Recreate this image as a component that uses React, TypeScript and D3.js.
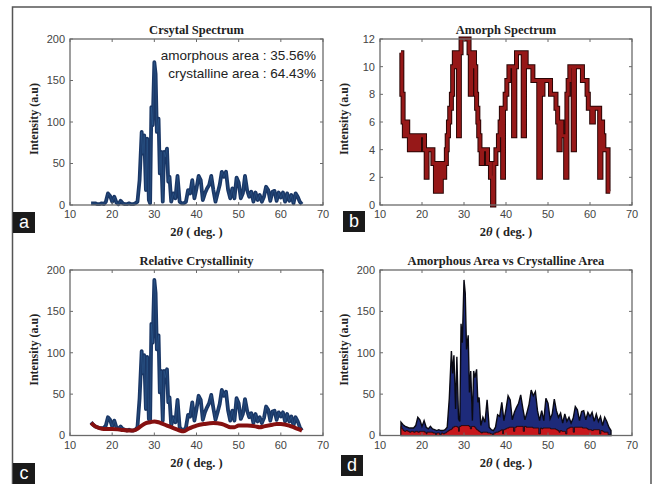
import * as d3 from "d3";

// 2θ positions shared by the crystalline / total spectra
const angles = [
  15, 15.5, 16, 16.5, 17, 17.5, 18, 18.5, 19, 19.5, 20, 20.5, 21, 21.5, 22, 22.5, 23, 23.5, 24, 24.5,
  25, 25.5, 26, 26.5, 27, 27.3, 27.6, 28, 28.3, 28.7, 29, 29.3, 29.6, 30, 30.3, 30.6, 31, 31.3, 31.6,
  32, 32.3, 32.6, 33, 33.3, 33.6, 34, 34.5, 35, 35.5, 36, 36.5, 37, 37.5, 38, 38.5, 39, 39.5, 40, 40.5,
  41, 41.5, 42, 42.5, 43, 43.5, 44, 44.5, 45, 45.5, 46, 46.5, 47, 47.5, 48, 48.5, 49, 49.5, 50, 50.5,
  51, 51.5, 52, 52.5, 53, 53.5, 54, 54.5, 55, 55.5, 56, 56.5, 57, 57.5, 58, 58.5, 59, 59.5, 60, 60.5,
  61, 61.5, 62, 62.5, 63, 63.5, 64, 64.5, 65,
];

// panel a: crystalline spectrum
const crystal = [
  2, 2, 2, 1, 1, 2, 1, 4, 14, 11, 4, 10, 3, 1, 5, 2, 1, 1, 2, 1,
  1, 2, 4, 30, 88, 62, 84, 18, 80, 6, 2, 118, 96, 172, 158, 88, 104, 38, 64,
  4, 64, 58, 68, 28, 34, 4, 14, 8, 35, 4, 2, 2, 4, 18, 14, 30, 8, 20, 35,
  30, 6, 14, 20, 24, 35, 18, 4, 14, 24, 40, 34, 40, 18, 8, 20, 8, 33, 27, 8,
  14, 35, 18, 10, 16, 4, 15, 6, 12, 4, 10, 22, 18, 5, 16, 17, 5, 15, 9, 15,
  4, 14, 5, 12, 2, 14, 10, 4, 1,
];

// panels c, d: measured total intensity
const total = [
  16, 13, 11, 10, 9, 9, 9, 12, 22, 19, 11, 18, 10, 8, 11, 8, 7, 6, 7, 6,
  6, 7, 10, 45, 102, 75, 97, 32, 95, 20, 17, 135, 112, 188, 172, 104, 121, 52, 78,
  18, 78, 70, 80, 40, 46, 12, 22, 16, 43, 10, 7, 6, 10, 25, 23, 40, 18, 32, 48,
  43, 19, 28, 34, 39, 49, 33, 19, 28, 38, 55, 48, 53, 30, 18, 30, 18, 45, 39, 20,
  26, 44, 30, 22, 27, 15, 26, 17, 22, 15, 21, 35, 31, 18, 29, 30, 19, 28, 23, 28,
  17, 26, 17, 23, 12, 22, 17, 10, 6,
];

// panel b: amorphous spectrum (stepped)
const amorphAngles = [
  15.0, 15.2, 15.5, 15.8, 16.2, 16.6, 17.0, 17.4, 18.0, 18.4, 19.0, 19.4, 20.6, 21.0, 21.2, 22.0,
  22.6, 23.2, 23.5, 24.2, 24.6, 25.0, 25.4, 25.8, 26.0, 26.3, 26.6, 27.0, 27.3, 27.7, 28.4, 28.7,
  28.9, 29.3, 31.2, 31.5, 31.8, 32.5, 32.8, 33.0, 33.3, 33.5, 33.8, 34.1, 34.4, 35.6, 36.3, 36.8,
  37.1, 37.6, 38.2, 38.6, 38.9, 39.2, 39.4, 39.8, 40.2, 40.7, 41.8, 42.1, 42.5, 44.1, 44.4, 44.8,
  46.4, 47.8, 48.2, 48.5, 48.8, 50.6, 51.9, 52.3, 52.6, 52.9, 53.3, 54.2, 54.5, 54.8, 55.2, 56.0,
  56.3, 58.2, 59.3, 59.6, 60.4, 60.8, 62.3, 62.6, 63.0, 63.3, 64.3, 64.8,
];
const amorph = [
  11, 8, 6, 5, 6, 5, 4, 5, 4, 5, 4, 5, 4, 2, 4, 4,
  3, 1, 3, 1, 3, 2, 3, 4, 5, 6, 7, 8, 10, 11, 10, 5,
  11, 12, 11, 8, 11, 10, 8, 7, 6, 5, 4, 3, 4, 3, 2, 0,
  3, 4, 5, 6, 7, 2, 7, 8, 9, 10, 5, 10, 11, 5, 11, 10,
  9, 2, 9, 8, 9, 8, 7, 6, 4, 6, 5, 2, 8, 9, 10, 4,
  10, 9, 8, 7, 6, 7, 2, 6, 5, 4, 1, 1,
];

// panel c: fitted amorphous background
const bgAngles = [
  15, 16, 17, 18, 20, 22, 24, 25, 26, 27, 28, 29, 30, 31, 32, 33, 34, 35, 36, 37, 38, 39, 40,
  42, 44, 46, 47, 48, 49, 50, 52, 54, 55, 56, 58, 59, 60, 62, 63, 64, 65,
];
const background = [
  15, 11, 9, 8, 8, 7, 6, 6, 8, 12, 15, 16, 17, 16, 14, 12, 10, 8, 6, 5, 8, 10, 12,
  14, 15, 14, 12, 10, 10, 12, 12, 11, 10, 11, 13, 14, 14, 12, 10, 8, 6,
];

const xTicks = [10, 20, 30, 40, 50, 60, 70];
const intensityTicks = [0, 50, 100, 150, 200];
const amorphTicks = [0, 2, 4, 6, 8, 10, 12];

type Box = { x0: number; x1: number; y0: number; y1: number };

const AXIS = "#6a6a6a";
const TICKTEXT = "#444";
const SERIF = "'Liberation Serif', 'Times New Roman', serif";
const SANS = "'Liberation Sans', Arial, sans-serif";

function Frame({
  box,
  title,
  yMax,
  yTicks,
  children,
}: {
  box: Box;
  title: string;
  yMax: number;
  yTicks: number[];
  children: (x: d3.ScaleLinear<number, number>, y: d3.ScaleLinear<number, number>) => any;
}) {
  const x = d3.scaleLinear().domain([10, 70]).range([box.x0, box.x1]);
  const y = d3.scaleLinear().domain([0, yMax]).range([box.y1, box.y0]);
  const cx = (box.x0 + box.x1) / 2;
  const cy = (box.y0 + box.y1) / 2;
  return (
    <g>
      {children(x, y)}
      <rect
        x={box.x0}
        y={box.y0}
        width={box.x1 - box.x0}
        height={box.y1 - box.y0}
        fill="none"
        stroke={AXIS}
        strokeWidth={1.3}
      />
      {xTicks.map((t) => (
        <g key={"x" + t}>
          <line x1={x(t)} x2={x(t)} y1={box.y1} y2={box.y1 - 3} stroke={AXIS} />
          <line x1={x(t)} x2={x(t)} y1={box.y0} y2={box.y0 + 3} stroke={AXIS} />
          <text
            x={x(t)}
            y={box.y1 + 13}
            textAnchor="middle"
            fontFamily={SANS}
            fontSize={11}
            fill={TICKTEXT}
          >
            {t}
          </text>
        </g>
      ))}
      {yTicks.map((t) => (
        <g key={"y" + t}>
          <line x1={box.x0} x2={box.x0 + 3} y1={y(t)} y2={y(t)} stroke={AXIS} />
          <line x1={box.x1} x2={box.x1 - 3} y1={y(t)} y2={y(t)} stroke={AXIS} />
          <text
            x={box.x0 - 5}
            y={y(t)}
            dy="0.35em"
            textAnchor="end"
            fontFamily={SANS}
            fontSize={11}
            fill={TICKTEXT}
          >
            {t}
          </text>
        </g>
      ))}
      <text
        x={cx}
        y={box.y0 - 5}
        textAnchor="middle"
        fontFamily={SERIF}
        fontWeight="bold"
        fontSize={12.5}
        fill="#222"
      >
        {title}
      </text>
      <text
        x={cx}
        y={box.y1 + 31}
        textAnchor="middle"
        fontFamily={SERIF}
        fontWeight="bold"
        fontSize={12.5}
        fill="#222"
      >
        2<tspan fontStyle="italic">θ</tspan> ( deg. )
      </text>
      <text
        transform={`translate(${box.x0 - 32},${cy - 3}) rotate(-90)`}
        textAnchor="middle"
        fontFamily={SERIF}
        fontWeight="bold"
        fontSize={12}
        fill="#222"
      >
        Intensity (a.u)
      </text>
    </g>
  );
}

function Tag({ x, y, label }: { x: number; y: number; label: string }) {
  return (
    <g>
      <rect x={x} y={y} width={22} height={21} fill="#1a1a1a" />
      <text
        x={x + 11}
        y={y + 16}
        textAnchor="middle"
        fontFamily={SANS}
        fontSize={18}
        fill="#fff"
      >
        {label}
      </text>
    </g>
  );
}

const idx = angles.map((_, i) => i);
const amorphIdx = amorphAngles.map((_, i) => i);
const bgIdx = bgAngles.map((_, i) => i);

const boxA: Box = { x0: 70, x1: 323, y0: 39, y1: 205 };
const boxB: Box = { x0: 380, x1: 632, y0: 39, y1: 205 };
const boxC: Box = { x0: 70, x1: 323, y0: 270, y1: 435.5 };
const boxD: Box = { x0: 380, x1: 632, y0: 270, y1: 435.5 };

export default function App() {
  return (
    <svg
      width={660}
      height={484}
      style={{ position: "absolute", left: 0, top: 0, background: "#fff" }}
    >
      <rect x={12.5} y={7} width={638.5} height={490} fill="#fff" stroke="#555" strokeWidth={1.5} />

      <Frame box={boxA} title="Crsytal Spectrum" yMax={200} yTicks={intensityTicks}>
        {(x, y) => {
          const line = d3
            .line<number>()
            .x((i) => x(angles[i]))
            .y((i) => y(crystal[i]));
          return (
            <g>
              <path d={line(idx) ?? ""} fill="none" stroke="#1a3766" strokeWidth={3.8} strokeLinejoin="round" />
              <path d={line(idx) ?? ""} fill="none" stroke="#3f7db3" strokeWidth={0.6} opacity={0.45} />
              <text x={316} y={60} textAnchor="end" fontFamily={SANS} fontSize={13.5} fill="#222">
                amorphous area : 35.56%
              </text>
              <text x={316} y={78} textAnchor="end" fontFamily={SANS} fontSize={13.5} fill="#222">
                crystalline area : 64.43%
              </text>
            </g>
          );
        }}
      </Frame>

      <Frame box={boxB} title="Amorph Spectrum" yMax={12} yTicks={amorphTicks}>
        {(x, y) => {
          const line = d3
            .line<number>()
            .x((i) => x(amorphAngles[i]))
            .y((i) => y(amorph[i]))
            .curve(d3.curveStepAfter);
          return (
            <g>
              <path d={line(amorphIdx) ?? ""} fill="none" stroke="#2a0505" strokeWidth={5} />
              <path d={line(amorphIdx) ?? ""} fill="none" stroke="#961818" strokeWidth={3} />
            </g>
          );
        }}
      </Frame>

      <Frame box={boxC} title="Relative Crystallinity" yMax={200} yTicks={intensityTicks}>
        {(x, y) => {
          const line = d3
            .line<number>()
            .x((i) => x(angles[i]))
            .y((i) => y(total[i]));
          const bg = d3
            .line<number>()
            .x((i) => x(bgAngles[i]))
            .y((i) => y(background[i]))
            .curve(d3.curveMonotoneX);
          return (
            <g>
              <path d={line(idx) ?? ""} fill="none" stroke="#1a3766" strokeWidth={3.8} strokeLinejoin="round" />
              <path d={line(idx) ?? ""} fill="none" stroke="#3f7db3" strokeWidth={0.6} opacity={0.45} />
              <path d={bg(bgIdx) ?? ""} fill="none" stroke="#851010" strokeWidth={4} />
            </g>
          );
        }}
      </Frame>

      <Frame box={boxD} title="Amorphous Area vs Crystalline Area" yMax={200} yTicks={intensityTicks}>
        {(x, y) => {
          const area = d3
            .area<number>()
            .x((i) => x(angles[i]))
            .y0(y(0))
            .y1((i) => y(total[i]));
          const redArea = d3
            .area<number>()
            .x((i) => x(amorphAngles[i]))
            .y0(y(0))
            .y1((i) => y(amorph[i]))
            .curve(d3.curveStepAfter);
          return (
            <g>
              <path d={area(idx) ?? ""} fill="#1d2a7a" stroke="#0a0a14" strokeWidth={1.4} />
              <path d={redArea(amorphIdx) ?? ""} fill="#c8171c" stroke="#1a0505" strokeWidth={0.8} />
            </g>
          );
        }}
      </Frame>

      <Tag x={13} y={212} label="a" />
      <Tag x={343} y={211} label="b" />
      <Tag x={13} y={463} label="c" />
      <Tag x={341} y={455} label="d" />
    </svg>
  );
}
